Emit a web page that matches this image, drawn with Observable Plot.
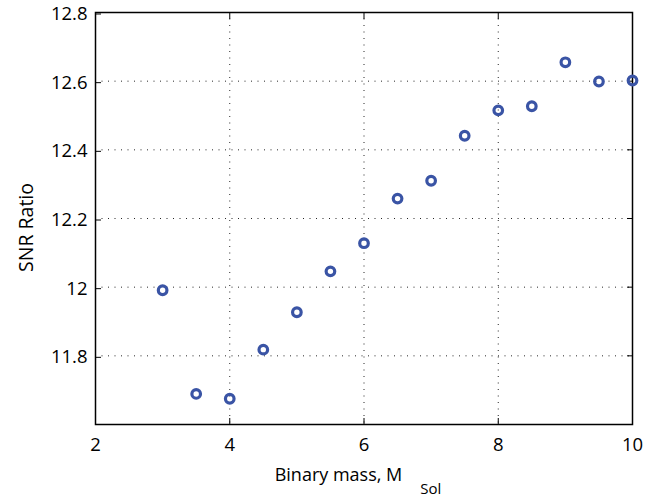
<!DOCTYPE html>
<html>
<head>
<meta charset="utf-8">
<script src="https://cdn.jsdelivr.net/npm/d3@7"></script>
<script src="https://cdn.jsdelivr.net/npm/@observablehq/plot@0.6"></script>
<style>
  html, body { margin: 0; padding: 0; background: #fff; }
  svg { display: block; }
</style>
</head>
<body>
<div id="chart"></div>
<script>
const mass = [3, 3.5, 4, 4.5, 5, 5.5, 6, 6.5, 7, 7.5, 8, 8.5, 9, 9.5, 10];
const snr = [11.991, 11.689, 11.675, 11.818, 11.927, 12.046, 12.128, 12.258, 12.310, 12.441, 12.515, 12.527, 12.655, 12.599, 12.602];
const xTicks = [2, 4, 6, 8, 10];
const yTicks = [11.8, 12, 12.2, 12.4, 12.6, 12.8];
const xLabel = "Binary mass, M";
const xLabelSub = "Sol";
const yLabel = "SNR Ratio";

const data = mass.map((m, i) => ({mass: m, snr: snr[i]}));
const font = "'Open Sans', 'Noto Sans', sans-serif";

const chart = Plot.plot({
  width: 660,
  height: 496,
  marginLeft: 95,
  marginRight: 28,
  marginTop: 12,
  marginBottom: 72,
  style: {fontFamily: font, fontSize: "18px", color: "#000", background: "#fff"},
  x: {domain: [2, 10]},
  y: {domain: [11.6, 12.8]},
  marks: [
    Plot.gridX(xTicks, {stroke: "#000", strokeOpacity: 0.85, strokeDasharray: "1,5.5"}),
    Plot.gridY(yTicks, {stroke: "#000", strokeOpacity: 0.85, strokeDasharray: "1,5.5"}),
    Plot.axisX(xTicks, {anchor: "bottom", tickSize: -6, tickPadding: 19, tickFormat: d => String(d), label: xLabel, labelAnchor: "center", labelArrow: "none", labelOffset: 56, fontSize: 18.5}),
    Plot.axisX(xTicks, {anchor: "top", tickSize: -6, tickFormat: () => "", label: null}),
    Plot.axisY(yTicks, {anchor: "left", tickSize: -6, tickPadding: 14, dy: 1.5, tickFormat: d => String(d), label: yLabel, labelAnchor: "center", labelArrow: "none", labelOffset: 76, fontSize: 18.5}),
    Plot.axisY(yTicks, {anchor: "right", tickSize: -6, tickFormat: () => "", label: null}),
    Plot.frame({stroke: "#000", strokeWidth: 1.5}),
    Plot.dot(data, {x: "mass", y: "snr", r: 4.3, stroke: "#3a54a5", strokeWidth: 3.2, fill: "none"})
  ]
});

const svg = d3.select(chart);
svg.selectAll("text").each(function() {
  const t = d3.select(this);
  const s = t.text();
  if (s === xLabel) {
    t.attr("font-size", "18px").attr("dx", "-6");
    t.append("tspan").attr("dy", "13").attr("dx", "18").attr("font-size", "15px").text(xLabelSub);
  } else if (s === yLabel) {
    t.attr("font-size", "19.5px").attr("dx", "-9");
  }
});

document.getElementById("chart").appendChild(chart);
</script>
</body>
</html>
